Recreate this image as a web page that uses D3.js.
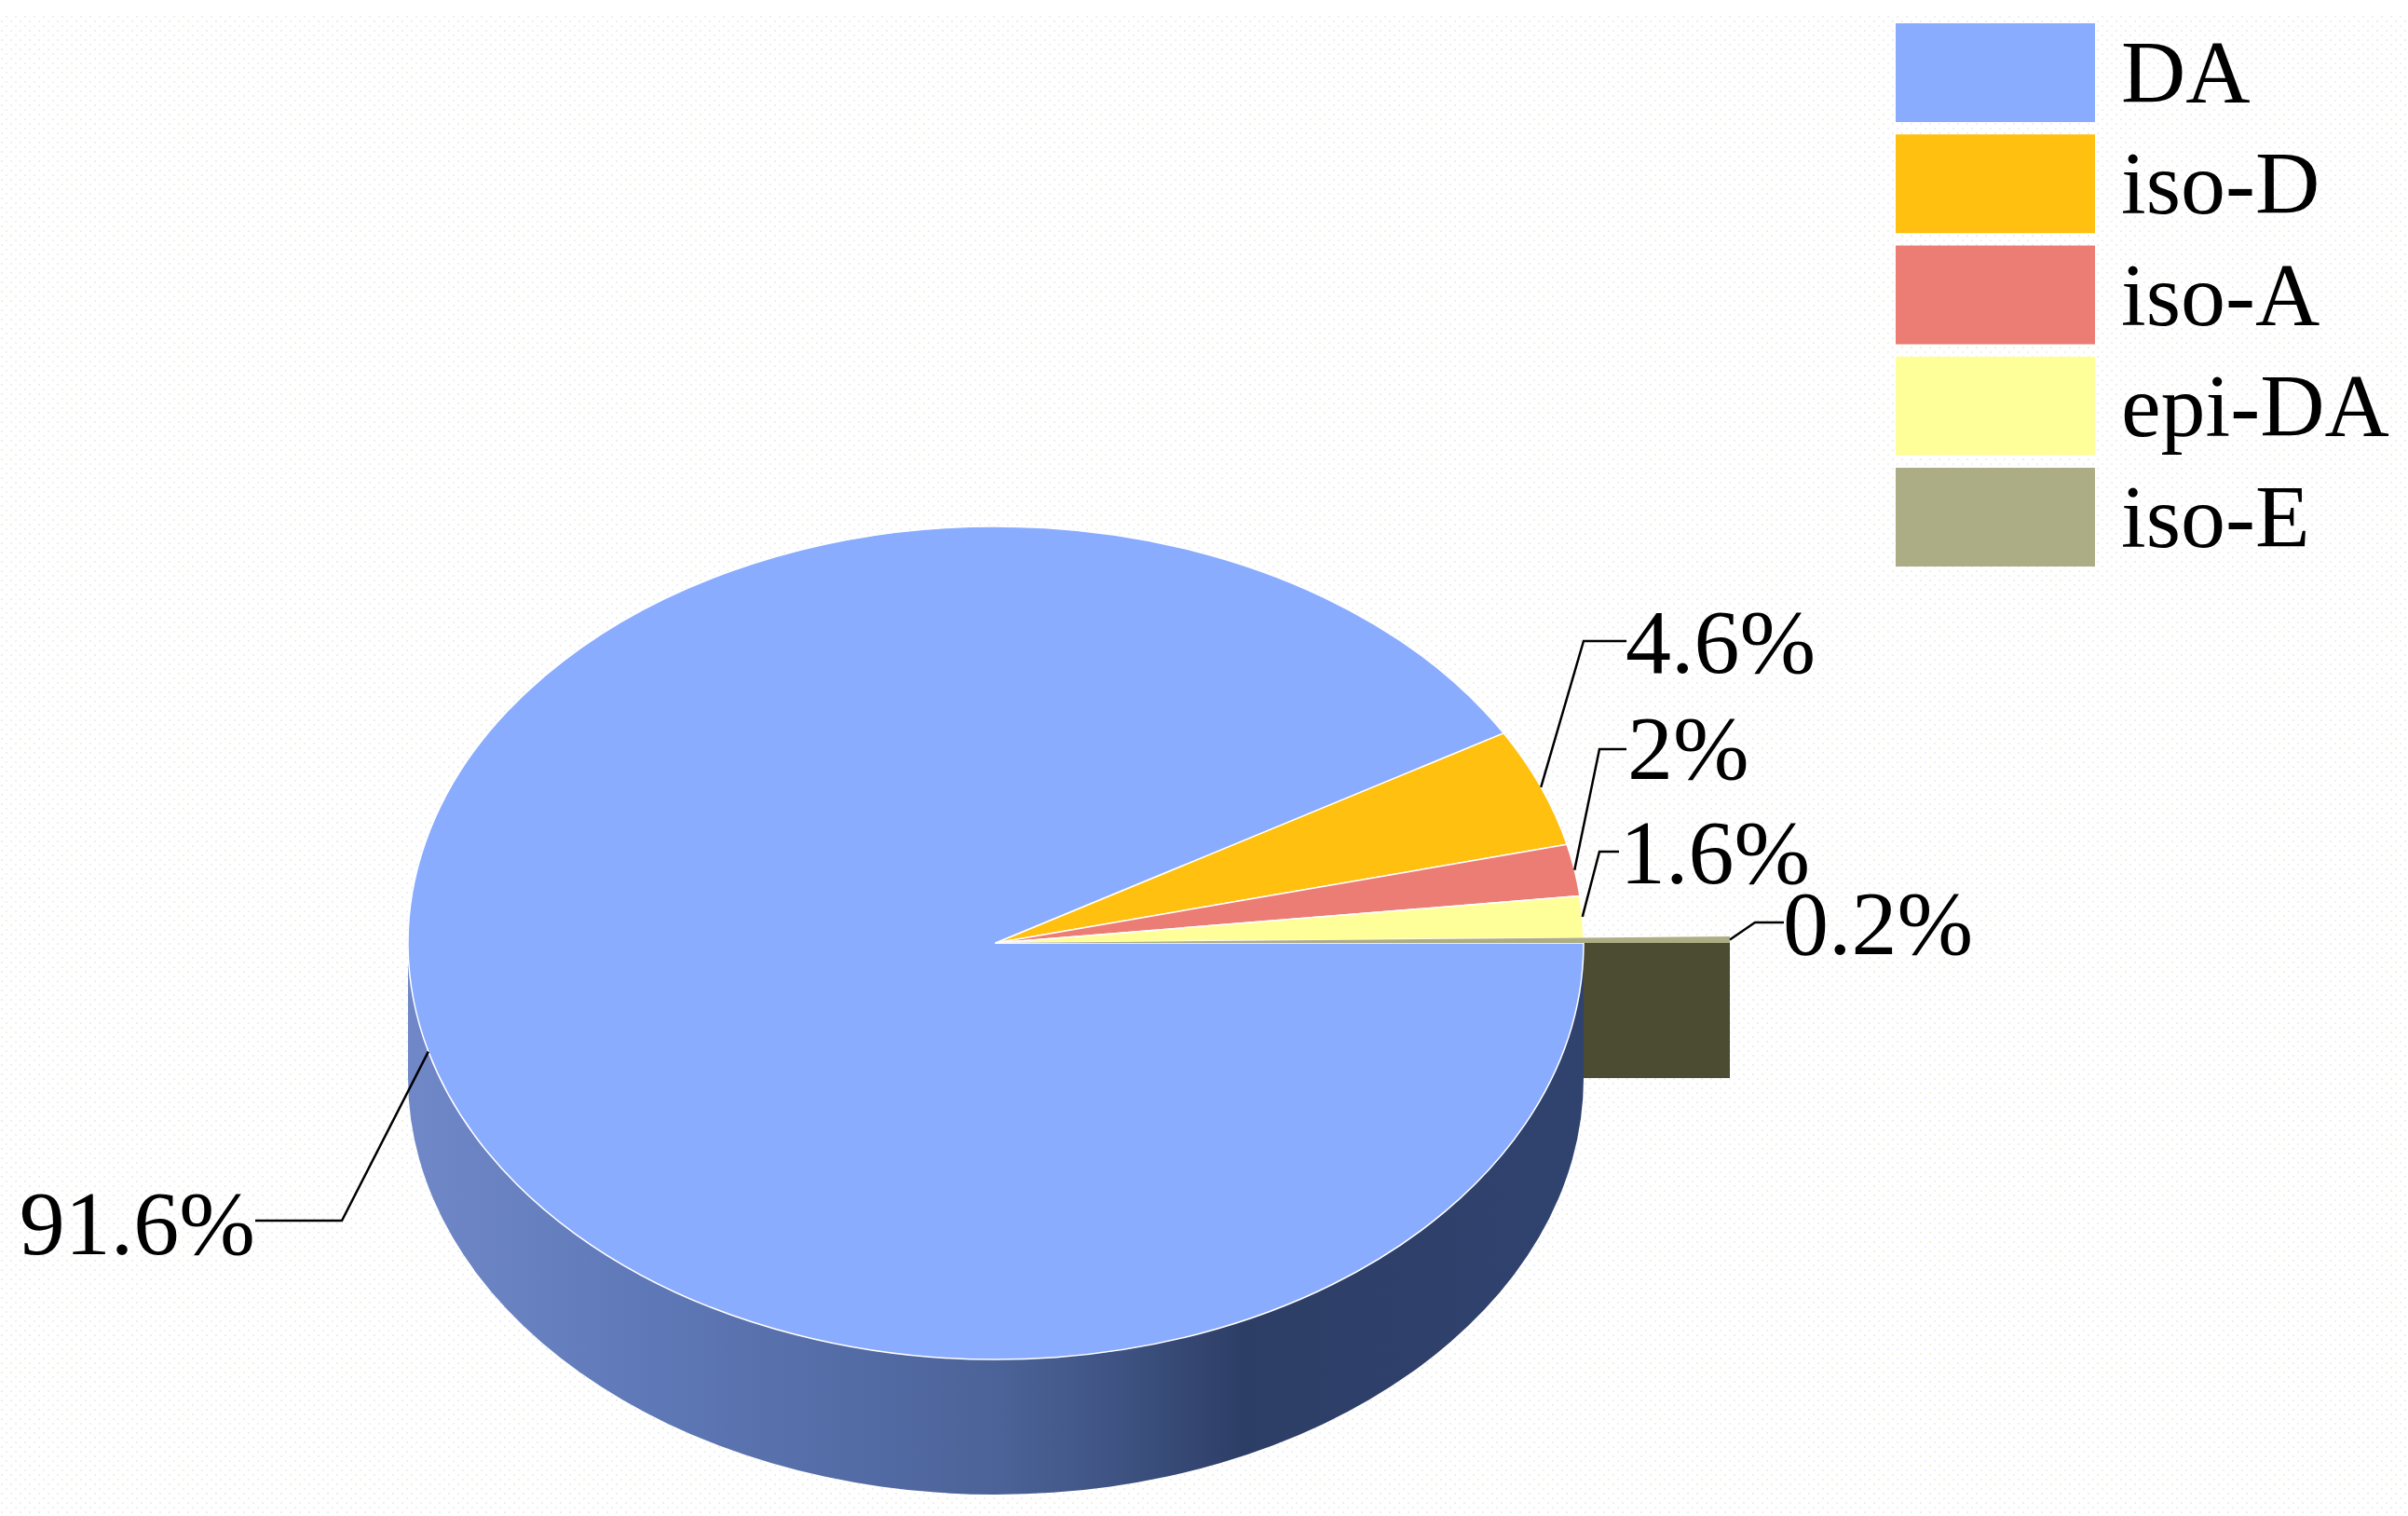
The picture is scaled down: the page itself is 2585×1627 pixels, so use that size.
<!DOCTYPE html>
<html>
<head>
<meta charset="utf-8">
<script src="https://cdn.jsdelivr.net/npm/d3@7"></script>
<style>
  html, body { margin: 0; padding: 0; background: #fff; }
  text { font-family: "Liberation Serif", serif; fill: #000; }
</style>
</head>
<body>
<div id="chart-area"></div>
<script>
const names = ["DA", "iso-D", "iso-A", "epi-DA", "iso-E"];
const percents = [91.6, 4.6, 2, 1.6, 0.2];
const colors = ["#8aacff", "#ffc010", "#ec7d75", "#ffff99", "#adad85"];

const width = 2585, height = 1627;
const cx = 1069, cy = 1012, rx = 631, ry = 447, depth = 145;
const squash = ry / rx;
// the small slice is pulled out further than the others
const bigOuter = 788;
const fontSize = 96;
const labelSize = 98;

// elbow and text position of each leader line
const elbowX = [367, 1700, 1717, 1717, 1884];
const elbowY = [1310, 688, 804, 914, 990];
const labelEndX = [274, 1746, 1746, 1738, 1915];
const labelX = [274, 1745, 1747, 1739, 1914];
const labelY = [1346, 722, 836, 948, 1024];

const svg = d3.select("#chart-area")
  .append("svg")
  .attr("width", width)
  .attr("height", height)
  .style("display", "block");

const defs = svg.append("defs");

// faint paper texture of the background
const dots = defs.append("pattern")
  .attr("id", "paper")
  .attr("width", 10).attr("height", 10)
  .attr("patternUnits", "userSpaceOnUse");
dots.append("rect").attr("x", 1).attr("y", 2).attr("width", 2).attr("height", 2).attr("fill", "#f4eee2");
dots.append("rect").attr("x", 6).attr("y", 7).attr("width", 2).attr("height", 2).attr("fill", "#e9f1f9");

svg.append("rect")
  .attr("y", 14)
  .attr("width", width)
  .attr("height", height - 14)
  .attr("fill", "url(#paper)");

const wallGrad = defs.append("linearGradient")
  .attr("id", "wall")
  .attr("gradientUnits", "userSpaceOnUse")
  .attr("x1", cx - rx).attr("x2", cx + rx)
  .attr("y1", 0).attr("y2", 0);
[[0, "#7088c8"], [0.2, "#5f79b8"], [0.5, "#4c6399"], [0.6, "#3f5484"], [0.71, "#2d3e66"], [1, "#30436f"]]
  .forEach(s => wallGrad.append("stop").attr("offset", s[0]).attr("stop-color", s[1]));

// side wall of the disc
svg.append("path")
  .attr("fill", "url(#wall)")
  .attr("d", `M${cx - rx},${cy} L${cx - rx},${cy + depth}
    A${rx},${ry} 0 0 0 ${cx + rx},${cy + depth} L${cx + rx},${cy}
    A${rx},${ry} 0 0 1 ${cx - rx},${cy} Z`);

// side wall of the pulled out slice
svg.append("rect")
  .attr("x", cx + rx)
  .attr("y", cy)
  .attr("width", bigOuter - rx)
  .attr("height", depth)
  .attr("fill", "#4c4c33");

const pie = d3.pie()
  .sort(null)
  .startAngle(Math.PI / 2)
  .endAngle(Math.PI / 2 + 2 * Math.PI);
const arcs = pie(percents);

const outerOf = i => (i === percents.length - 1 ? bigOuter : rx);
const arc = d3.arc().innerRadius(0);

const disc = svg.append("g")
  .attr("transform", `translate(${cx},${cy}) scale(1,${squash})`);

disc.selectAll("path")
  .data(arcs)
  .join("path")
  .attr("d", (d, i) => arc.outerRadius(outerOf(i))(d))
  .attr("fill", (d, i) => colors[i])
  .attr("stroke", "#fff")
  .attr("stroke-width", (d, i) => (i === percents.length - 1 ? 0 : 1.5))
  .attr("stroke-linejoin", "round")
  .attr("vector-effect", "non-scaling-stroke");

// leader lines start on the rim, in the middle of each slice
const anchor = (d, i) => {
  const a = (d.startAngle + d.endAngle) / 2;
  return [cx + outerOf(i) * Math.sin(a), cy - ry * (outerOf(i) / rx) * Math.cos(a)];
};

svg.append("g")
  .selectAll("path")
  .data(arcs)
  .join("path")
  .attr("fill", "none")
  .attr("stroke", "#000")
  .attr("stroke-width", 2.5)
  .attr("d", (d, i) => d3.line()([anchor(d, i), [elbowX[i], elbowY[i]], [labelEndX[i], elbowY[i]]]));

svg.append("g")
  .selectAll("text")
  .data(percents)
  .join("text")
  .attr("x", (d, i) => labelX[i])
  .attr("y", (d, i) => labelY[i])
  .attr("text-anchor", (d, i) => (i === 0 ? "end" : "start"))
  .attr("font-size", labelSize)
  .text(d => d + "%");

// legend
const legendY = d3.scalePoint()
  .domain(names)
  .range([25, 502]);

const legend = svg.append("g")
  .selectAll("g")
  .data(names)
  .join("g")
  .attr("transform", d => `translate(2035,${legendY(d)})`);

legend.append("rect")
  .attr("width", 214)
  .attr("height", 106)
  .attr("fill", (d, i) => colors[i]);

legend.append("text")
  .attr("x", 242)
  .attr("y", 85)
  .attr("font-size", fontSize)
  .text(d => d);
</script>
</body>
</html>
